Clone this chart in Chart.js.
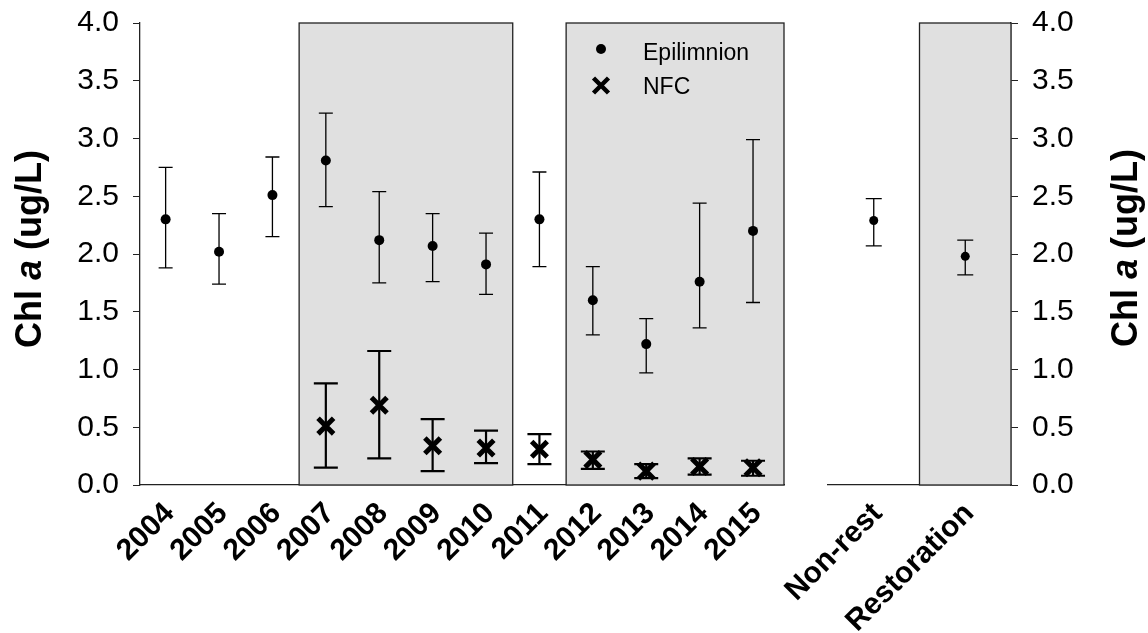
<!DOCTYPE html>
<html>
<head>
<meta charset="utf-8">
<script src="https://cdn.jsdelivr.net/npm/chart.js@4.4.1/dist/chart.umd.min.js"></script>
<style>
html, body { margin: 0; padding: 0; background: #fff; }
#wrap { position: relative; width: 1148px; height: 633px; }
canvas { position: absolute; top: 0; }
#yearChart { left: 0; }
#groupChart { left: 740px; }
</style>
</head>
<body>
<div id="wrap">
<canvas id="yearChart" width="800" height="633"></canvas>
<canvas id="groupChart" width="408" height="633"></canvas>
</div>
<script>
// yearly means with error bar ends
const years = ['2004', '2005', '2006', '2007', '2008', '2009', '2010', '2011', '2012', '2013', '2014', '2015'];
const shadedYears = ['2007', '2008', '2009', '2010', '2012', '2013', '2014', '2015'];

const epiMean  = [2.30, 2.02, 2.51, 2.81, 2.12, 2.07, 1.91, 2.30, 1.60, 1.22, 1.76, 2.20];
const epiUpper = [2.75, 2.35, 2.84, 3.22, 2.54, 2.35, 2.18, 2.71, 1.89, 1.44, 2.44, 2.99];
const epiLower = [1.88, 1.74, 2.15, 2.41, 1.75, 1.76, 1.65, 1.89, 1.30, 0.97, 1.36, 1.58];

const nfcMean  = [null, null, null, 0.51, 0.69, 0.34, 0.32, 0.31, 0.22, 0.12, 0.16, 0.15];
const nfcUpper = [null, null, null, 0.88, 1.16, 0.57, 0.47, 0.44, 0.29, 0.18, 0.23, 0.21];
const nfcLower = [null, null, null, 0.15, 0.23, 0.12, 0.19, 0.18, 0.14, 0.06, 0.09, 0.08];

// restoration vs non-restoration years
const groups = ['Non-rest', 'Restoration'];
const shadedGroups = ['Restoration'];
const groupMean  = [2.29, 1.98];
const groupUpper = [2.48, 2.12];
const groupLower = [2.07, 1.82];

const FONT = '"Liberation Sans", Arial, sans-serif';
const AXIS = '#222';

function points(arr) {
    return arr.map((v, i) => ({ x: i, y: v }));
}

function shadingPlugin(cats, shaded) {
    return {
        id: 'shading',
        beforeDatasetsDraw(chart) {
            const { ctx, chartArea: a, scales: { x, y } } = chart;
            const runs = [];
            cats.forEach((c, i) => {
                if (!shaded.includes(c)) return;
                const last = runs[runs.length - 1];
                if (last && last[1] === i - 1) last[1] = i;
                else runs.push([i, i]);
            });
            ctx.save();
            runs.forEach(([s, e]) => {
                const l = x.getPixelForValue(s - 0.5);
                const r = e === cats.length - 1 ? a.right : x.getPixelForValue(e + 0.5);
                const t = y.getPixelForValue(y.max);
                const b = y.getPixelForValue(0);
                ctx.fillStyle = '#e0e0e0';
                ctx.fillRect(l, t, r - l, b - t);
                ctx.strokeStyle = AXIS;
                ctx.lineWidth = 1.3;
                ctx.strokeRect(l, t, r - l, b - t);
            });
            ctx.restore();
        }
    };
}

const errorBars = {
    id: 'errorBars',
    beforeDatasetsDraw(chart) {
        const ctx = chart.ctx;
        const y = chart.scales.y;
        chart.data.datasets.forEach((ds, i) => {
            const meta = chart.getDatasetMeta(i);
            ctx.save();
            ctx.strokeStyle = '#000';
            ctx.lineWidth = ds.errWidth;
            meta.data.forEach((pt, j) => {
                if (ds.upper[j] == null) return;
                const yt = y.getPixelForValue(ds.upper[j]);
                const yb = y.getPixelForValue(ds.lower[j]);
                ctx.beginPath();
                ctx.moveTo(pt.x, yt); ctx.lineTo(pt.x, yb);
                ctx.moveTo(pt.x - ds.cap, yt); ctx.lineTo(pt.x + ds.cap, yt);
                ctx.moveTo(pt.x - ds.cap, yb); ctx.lineTo(pt.x + ds.cap, yb);
                ctx.stroke();
            });
            ctx.restore();
        });
    }
};

function titlePlugin(cx, cy) {
    return {
        id: 'yTitle',
        afterDraw(chart) {
            const ctx = chart.ctx;
            const parts = [['Chl ', 'bold'], ['a', 'italic bold'], [' (ug/L)', 'bold']];
            ctx.save();
            ctx.translate(cx, cy);
            ctx.rotate(-Math.PI / 2);
            ctx.fillStyle = '#000';
            ctx.textBaseline = 'middle';
            let total = 0;
            parts.forEach(p => { ctx.font = p[1] + ' 36px ' + FONT; total += ctx.measureText(p[0]).width; });
            let x = -total / 2;
            parts.forEach(p => {
                ctx.font = p[1] + ' 36px ' + FONT;
                ctx.fillText(p[0], x, 0);
                x += ctx.measureText(p[0]).width;
            });
            ctx.restore();
        }
    };
}

const legendBox = {
    id: 'legendBox',
    afterDraw(chart) {
        const ctx = chart.ctx;
        const a = chart.chartArea;
        const mx = a.left + 461;
        ctx.save();
        ctx.fillStyle = '#000';
        ctx.strokeStyle = '#000';
        ctx.beginPath();
        ctx.arc(mx, 49, 5, 0, Math.PI * 2);
        ctx.fill();
        ctx.lineWidth = 4.5;
        ctx.beginPath();
        ctx.moveTo(mx - 7.5, 78); ctx.lineTo(mx + 7.5, 93);
        ctx.moveTo(mx - 7.5, 93); ctx.lineTo(mx + 7.5, 78);
        ctx.stroke();
        ctx.font = '23px ' + FONT;
        ctx.textBaseline = 'alphabetic';
        ctx.fillText(chart.data.datasets[0].label, a.left + 503, 60);
        ctx.fillText(chart.data.datasets[1].label, a.left + 503, 94);
        ctx.restore();
    }
};

function yScale(position, width) {
    return {
        position: position,
        min: 0,
        max: 4,
        ticks: {
            stepSize: 0.5,
            callback: v => v.toFixed(1),
            font: { family: FONT, size: 30 },
            color: '#000',
            padding: 14
        },
        grid: { drawOnChartArea: false, drawTicks: true, tickLength: 7, color: AXIS },
        border: { display: true, color: AXIS, width: 1.3 },
        afterFit: s => { s.width = width; s.paddingTop = 0; s.paddingBottom = 0; }
    };
}

function xScale(cats, min, max) {
    return {
        type: 'linear',
        min: min,
        max: max,
        afterBuildTicks: s => { s.ticks = cats.map((_, i) => ({ value: i })); },
        ticks: {
            callback: v => cats[v],
            autoSkip: false,
            minRotation: 45,
            maxRotation: 45,
            font: { family: FONT, size: 30, weight: 'bold' },
            color: '#000',
            padding: 3,
            labelOffset: 4
        },
        grid: { display: false },
        border: { display: true, color: AXIS, width: 1.3 },
        afterFit: s => { s.height = 148; }
    };
}

new Chart(document.getElementById('yearChart'), {
    type: 'scatter',
    data: {
        datasets: [{
            label: 'Epilimnion',
            data: points(epiMean),
            upper: epiUpper,
            lower: epiLower,
            cap: 7,
            errWidth: 1.3,
            pointStyle: 'circle',
            pointRadius: 5,
            backgroundColor: '#000',
            borderColor: '#000',
            borderWidth: 0
        }, {
            label: 'NFC',
            data: points(nfcMean),
            upper: nfcUpper,
            lower: nfcLower,
            cap: 12,
            errWidth: 2.2,
            pointStyle: 'crossRot',
            pointRadius: 11,
            borderWidth: 5,
            borderColor: '#000',
            backgroundColor: '#000'
        }]
    },
    options: {
        responsive: false,
        animation: false,
        layout: { padding: { top: 23, right: 14, left: 0, bottom: 0 } },
        plugins: { legend: { display: false }, tooltip: { enabled: false } },
        scales: {
            x: xScale(years, -0.48, 11.58),
            y: yScale('left', 140)
        }
    },
    plugins: [shadingPlugin(years, shadedYears), errorBars, legendBox, titlePlugin(31, 249)]
});

new Chart(document.getElementById('groupChart'), {
    type: 'scatter',
    data: {
        datasets: [{
            label: 'Lake',
            data: points(groupMean),
            upper: groupUpper,
            lower: groupLower,
            cap: 8,
            errWidth: 1.3,
            pointStyle: 'circle',
            pointRadius: 4.5,
            backgroundColor: '#000',
            borderColor: '#000',
            borderWidth: 0
        }]
    },
    options: {
        responsive: false,
        animation: false,
        layout: { padding: { top: 23, right: 0, left: 88, bottom: 0 } },
        plugins: { legend: { display: false }, tooltip: { enabled: false } },
        scales: {
            x: xScale(groups, -0.5, 1.5),
            y: yScale('right', 137)
        }
    },
    plugins: [shadingPlugin(groups, shadedGroups), errorBars, titlePlugin(387, 248)]
});
</script>
</body>
</html>
